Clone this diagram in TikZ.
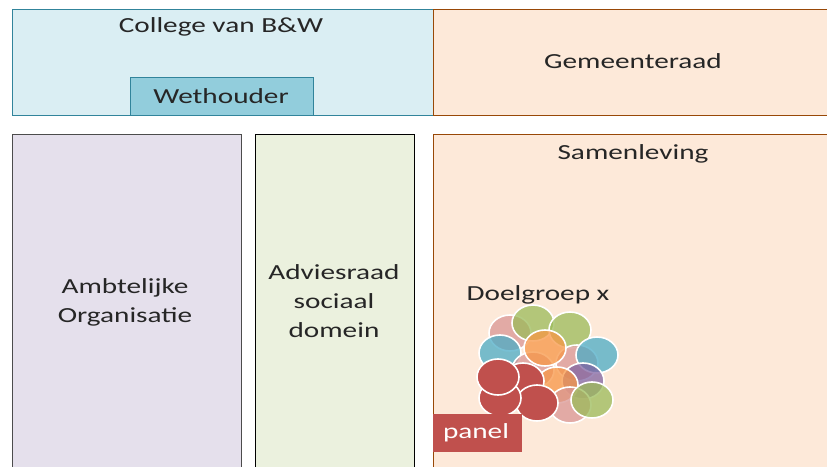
\documentclass[tikz,border=0pt]{standalone}
\usepackage{fontspec}
\setmainfont{Carlito}
\usepackage{tikz}
\usetikzlibrary{positioning}

\definecolor{bwfill}{HTML}{DAEEF3}
\definecolor{bwline}{HTML}{31849B}
\definecolor{wetfill}{HTML}{92CDDC}
\definecolor{raadfill}{HTML}{FDE9D9}
\definecolor{raadline}{HTML}{984807}
\definecolor{ambfill}{HTML}{E5E0EC}
\definecolor{advfill}{HTML}{EBF1DE}
\definecolor{cred}{HTML}{C0504D}
\definecolor{colive}{HTML}{9BBB59}
\definecolor{cblue}{HTML}{4BACC6}
\definecolor{corange}{HTML}{F79646}
\definecolor{cpurple}{HTML}{8064A2}
\definecolor{cpink}{HTML}{D99694}

\tikzset{
  box/.style={draw, line width=0.8pt, anchor=north west, inner sep=0pt},
  lbl/.style={font=\fontsize{21.5}{29}\selectfont, align=center, xscale=1.36, transform shape, text=black!85},
  blob/.style={draw=white, line width=1.6pt, fill opacity=0.75}
}

\begin{document}
\begin{tikzpicture}[x=1pt, y=-1pt]
  \useasboundingbox (0,0) rectangle (827,466);
  \fill[white] (0,0) rectangle (827,466);

  % top row
  \node[box, fill=bwfill, draw=bwline, minimum width=421pt, minimum height=106pt] (college) at (12,9) {};
  \node[box, fill=wetfill, draw=bwline, minimum width=183pt, minimum height=38pt] (wethouder) at (130,77) {};
  \node[box, fill=raadfill, draw=raadline, minimum width=400pt, minimum height=106pt] (raad) at (433,9) {};

  % bottom row
  \node[box, fill=ambfill, draw=black!70, minimum width=229pt, minimum height=340pt] (ambt) at (12,134) {};
  \node[box, fill=advfill, draw=black, minimum width=159pt, minimum height=340pt] (advies) at (255,134) {};
  \node[box, fill=raadfill, draw=raadline, minimum width=400pt, minimum height=340pt] (samen) at (433,134) {};

  % labels
  \node[lbl] (tcollege) at (221,27) {College van B\&W};
  \node[lbl] (twet) at (221,96) {Wethouder};
  \node[lbl] (traad) at (633,61) {Gemeenteraad};
  \node[lbl] (tsamen) at (633,154) {Samenleving};
  \node[lbl] (tambt) at (125,302) {Ambtelijke\\Organisatie};
  \node[lbl] (tadv) at (334,301) {Adviesraad\\sociaal\\domein};
  \node[lbl] (tdoel) at (538,295) {Doelgroep x};

  % doelgroep cluster
  \foreach \cx/\cy/\col in {510/333/cpink, 533/323/colive, 570/330/colive,
      500/353/cblue, 533/370/cpink, 577/363/cpink, 597/355/cblue,
      583/381/cpurple, 557/385/corange, 545/348/corange,
      570/405/cpink, 592/400/colive}
    \fill[blob, fill=\col] (\cx,\cy) ellipse (21pt and 18pt);
  \foreach \cx/\cy in {523/381, 537/403, 500/398, 498/377}
    \fill[blob, fill=cred, fill opacity=1] (\cx,\cy) ellipse (21pt and 18pt);

  % panel
  \node[box, fill=cred, draw=cred, minimum width=88pt, minimum height=37pt] (panel) at (433,414) {};
  \node[lbl, text=white] (tpanel) at (476,433) {panel};
\end{tikzpicture}
\end{document}
